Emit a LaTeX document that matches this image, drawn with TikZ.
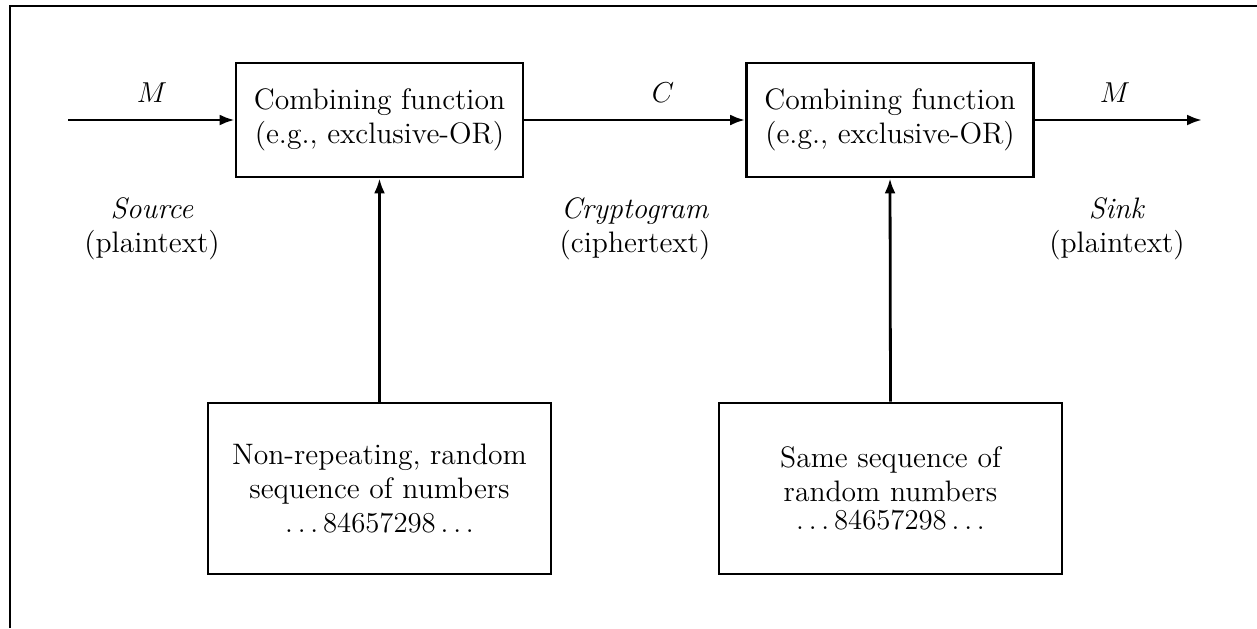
\documentclass[tikz,border=0pt]{standalone}
\usetikzlibrary{arrows.meta}
\begin{document}
\begin{tikzpicture}[x=0.5pt,y=-0.5pt,line width=1.4pt,
  every node/.style={font=\fontsize{14.8}{17}\selectfont},
  fbox/.style={draw,align=center,inner sep=0pt,minimum width=287*0.5pt,minimum height=114*0.5pt},
  rbox/.style={draw,align=center,inner sep=0pt,minimum width=343*0.5pt,minimum height=171*0.5pt},
  lbl/.style={align=center,inner sep=0pt},
  arr/.style={-{Latex[length=7.5pt,width=5.5pt]}}]
\useasboundingbox (0,0) rectangle (1257,628);
\draw (10,628) -- (10,6) -- (1257,6);
\node[fbox] (f1) at (379.5,120) {Combining function\\(e.g., exclusive-OR)};
\node[fbox] (f2) at (890,120) {Combining function\\(e.g., exclusive-OR)};
\node[rbox] (r1) at (379.5,488.5) {Non-repeating, random\\sequence of numbers\\$\ldots84657298\ldots$};
\node[rbox] (r2) at (890.5,488.5) {Same sequence of\\random numbers\\[-3pt]$\ldots84657298\ldots$};
\coordinate (in) at (68,120);
\coordinate (out) at (1202,120);
\draw[arr] (in) -- (f1.west);
\draw[arr] (f1.east) -- (f2.west);
\draw[arr] (f2.east) -- (out);
\draw[arr] (r1.north) -- (f1.south);
\draw[arr] (r2.north) -- (f2.south);
\node[lbl] (m1) at (152,93) {$M$};
\node[lbl] (c) at (663,93) {$C$};
\node[lbl] (m2) at (1115,93) {$M$};
\node[lbl] (src) at (152,229) {\textit{Source}\\(plaintext)};
\node[lbl] (cry) at (635,229) {\textit{Cryptogram}\\(ciphertext)};
\node[lbl] (snk) at (1117,229) {\textit{Sink}\\(plaintext)};
\end{tikzpicture}
\end{document}
